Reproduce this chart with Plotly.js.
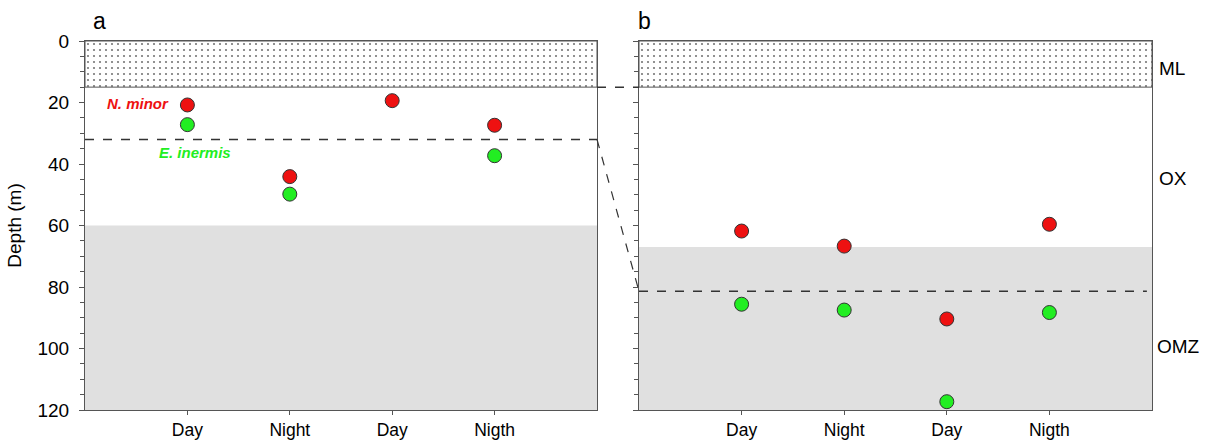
<!DOCTYPE html>
<html>
<head>
<meta charset="utf-8">
<script src="https://cdn.plot.ly/plotly-3.0.1.min.js"></script>
<style>html,body{margin:0;padding:0;background:#fff;}#chart{width:1207px;height:440px;}</style>
</head>
<body>
<div id="chart"></div>
<script>
// ---- data ----
const categories = ["Day", "Night", "Day", "Nigth"];
const catPos = [1, 2, 3, 4];
const nMinorA = [20.8, 44.1, 19.4, 27.4];
const eInermisA = [27.2, 49.8, null, 37.3];
const nMinorB = [61.8, 66.7, 90.4, 59.6];
const eInermisB = [85.6, 87.5, 117.3, 88.3];
const depthTicks = [0, 20, 40, 60, 80, 100, 120];
// zone boundaries (m)
const mlDepth = 15;
const dashedA = 32;
const omzTopA = 60;
const dashedB = 81.4;
const omzTopB = 67;
const maxDepth = 120;

const W = 1207, H = 440;
const domA = [85 / W, 597 / W];
const domB = [639 / W, 1152 / W];
const domY = [1 - 410 / H, 1 - 41 / H];
const red = '#ee1111', green = '#22ee22';
const axisCol = '#555555';
const FONT = 'Arial, Liberation Sans';

function marker(c) { return { color: c, size: 14, line: { color: '#333', width: 1 } }; }

const stipple = (xa, ya) => ({
  x: [0, 5, 5, 0, 0], y: [0, 0, mlDepth, mlDepth, 0], xaxis: xa, yaxis: ya,
  mode: 'lines', fill: 'toself', fillcolor: 'white',
  fillpattern: { shape: '.', size: 6, solidity: 0.1, fgcolor: '#777', bgcolor: 'white' },
  line: { color: axisCol, width: 1 }, hoverinfo: 'skip', showlegend: false
});

const data = [
  stipple('x', 'y'), stipple('x2', 'y2'),
  { x: catPos, y: nMinorA, mode: 'markers', marker: marker(red), xaxis: 'x', yaxis: 'y', showlegend: false },
  { x: catPos, y: eInermisA, mode: 'markers', marker: marker(green), xaxis: 'x', yaxis: 'y', showlegend: false },
  { x: catPos, y: nMinorB, mode: 'markers', marker: marker(red), xaxis: 'x2', yaxis: 'y2', showlegend: false },
  { x: catPos, y: eInermisB, mode: 'markers', marker: marker(green), xaxis: 'x2', yaxis: 'y2', showlegend: false }
];

const xax = (dom, anchor) => ({
  domain: dom, range: [0, 5], anchor: anchor, tickvals: catPos, ticktext: categories,
  ticks: 'outside', ticklen: 4, tickcolor: axisCol, showline: true, linecolor: axisCol, linewidth: 1,
  mirror: true, showgrid: false, zeroline: false, ticklabelstandoff: 0,
  tickfont: { family: FONT, size: 17.5, color: '#000' }
});
const yax = (anchor, labels) => ({
  domain: domY, range: [maxDepth, 0], anchor: anchor, tickvals: depthTicks,
  showticklabels: labels, ticks: 'outside', ticklen: 5, tickcolor: axisCol,
  minor: { dtick: 5, ticks: 'outside', ticklen: 4, tickcolor: axisCol, showgrid: false },
  showline: true, linecolor: axisCol, linewidth: 1, mirror: true, showgrid: false, zeroline: false,
  ticklabelstandoff: 6,
  tickfont: { family: FONT, size: 19, color: '#000' }
});

const layout = {
  width: W, height: H, margin: { l: 0, r: 0, t: 0, b: 0 },
  paper_bgcolor: 'white', plot_bgcolor: 'white', showlegend: false,
  xaxis: xax(domA, 'y'), yaxis: Object.assign(yax('x', true), {
    title: { text: 'Depth (m)', font: { family: FONT, size: 19, color: '#000' }, standoff: 10 }
  }),
  xaxis2: xax(domB, 'y2'), yaxis2: yax('x2', false),
  shapes: [
    { type: 'rect', xref: 'x', yref: 'y', x0: 0, x1: 5, y0: omzTopA, y1: maxDepth, fillcolor: '#e0e0e0', line: { width: 0 }, layer: 'below' },
    { type: 'rect', xref: 'x2', yref: 'y2', x0: 0, x1: 5, y0: omzTopB, y1: maxDepth, fillcolor: '#e0e0e0', line: { width: 0 }, layer: 'below' },
    { type: 'line', xref: 'x', yref: 'y', x0: 0, x1: 5, y0: dashedA, y1: dashedA, line: { color: '#333', width: 1.5, dash: 'dash' } },
    { type: 'line', xref: 'x2', yref: 'y2', x0: 0, x1: 4.95, y0: dashedB, y1: dashedB, line: { color: '#333', width: 1.5, dash: 'dash' } },
    { type: 'line', xref: 'paper', yref: 'y', x0: domA[1], x1: domB[0], y0: mlDepth, y1: mlDepth, line: { color: '#333', width: 1.5, dash: 'dash' } },
    { type: 'line', xref: 'paper', yref: 'y', x0: domA[1], x1: domB[0], y0: dashedA, y1: dashedB, line: { color: '#333', width: 1.2, dash: 'dash' } }
  ],
  annotations: [
    { text: 'a', xref: 'paper', yref: 'paper', x: 91 / W, y: 1 - 21 / H, showarrow: false, xanchor: 'left', yanchor: 'middle', font: { family: FONT, size: 23, color: '#000' } },
    { text: 'b', xref: 'paper', yref: 'paper', x: 636 / W, y: 1 - 21 / H, showarrow: false, xanchor: 'left', yanchor: 'middle', font: { family: FONT, size: 23, color: '#000' } },
    { text: 'ML', xref: 'paper', yref: 'y2', x: 1157 / W, y: 8.8, showarrow: false, xanchor: 'left', font: { family: FONT, size: 19, color: '#000' } },
    { text: 'OX', xref: 'paper', yref: 'y2', x: 1157 / W, y: 44.6, showarrow: false, xanchor: 'left', font: { family: FONT, size: 19, color: '#000' } },
    { text: 'OMZ', xref: 'paper', yref: 'y2', x: 1155 / W, y: 99.2, showarrow: false, xanchor: 'left', font: { family: FONT, size: 19, color: '#000' } },
    { text: '<b><i>N. minor</i></b>', xref: 'x', yref: 'y', x: 0.52, y: 20.3, showarrow: false, font: { family: FONT, size: 15, color: red } },
    { text: '<b><i>E. inermis</i></b>', xref: 'x', yref: 'y', x: 1.07, y: 36.3, showarrow: false, font: { family: FONT, size: 15, color: green } }
  ]
};

Plotly.newPlot('chart', data, layout, { displayModeBar: false, staticPlot: true });
</script>
</body>
</html>
